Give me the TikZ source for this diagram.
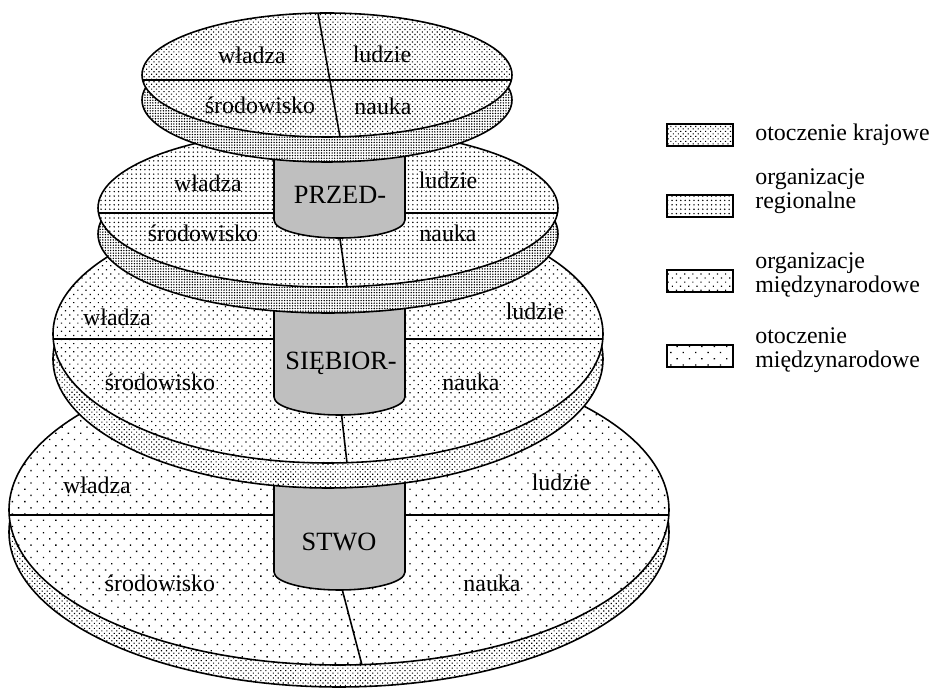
\documentclass[tikz,border=0pt]{standalone}
\usepackage{fontspec}
\setmainfont{Liberation Serif}
\usetikzlibrary{patterns.meta}
\tikzstyle{disc} = [draw, line width=0.9pt, preaction={fill=white}]
\tikzstyle{krajowe} = [pattern={Dots[distance=2pt, radius=0.45pt, angle=45]}]
\tikzstyle{regionalne} = [pattern={Dots[distance=2.5pt, radius=0.45pt]}]
\tikzstyle{orgmiedzy} = [pattern={Dots[distance=3.3pt, radius=0.48pt, angle=45]}]
\tikzstyle{otmiedzy} = [pattern={Dots[distance=5pt, radius=0.55pt, angle=45]}]
\tikzstyle{rimfine} = [pattern={Dots[distance=1.5pt, radius=0.45pt]}]
\tikzstyle{rimmid} = [pattern={Dots[distance=2pt, radius=0.45pt, angle=45]}]
\tikzstyle{divide} = [draw, line width=0.9pt]
\tikzstyle{cyl} = [draw, line width=0.9pt, fill=black!25]
\tikzstyle{lbl} = [font=\fontsize{13.6}{16}\selectfont, inner sep=0pt]
\tikzstyle{firm} = [font=\fontsize{15}{18}\selectfont, inner sep=0pt]
\tikzstyle{legbox} = [rectangle, draw, line width=1.2pt, preaction={fill=white},
    minimum width=1.32cm, minimum height=0.44cm, inner sep=0pt]
\tikzstyle{legtext} = [font=\fontsize{13.6}{14}\selectfont, align=left,
    anchor=west, inner sep=0pt]

\begin{document}
\begin{tikzpicture}[x=0.02cm, y=-0.02cm]
\useasboundingbox (0,0) rectangle (931,688);
    % Bottom disc
\path [disc, rimmid] (339,532) ellipse [x radius=330, y radius=155];
\path [disc, otmiedzy] (339,510) ellipse [x radius=330, y radius=155];
\path [divide] (10,515) -- (668,515);
\path [divide] (341,585) -- (362,665);
\node[lbl] (wl4) at (97,485) {władza};
\node[lbl] (lu4) at (561,482) {ludzie};
\node[lbl] (sr4) at (160,583) {środowisko};
\node[lbl] (na4) at (492,583) {nauka};
\draw[cyl] (274,470) -- (274,572) arc[start angle=180, end angle=0, x radius=65.5, y radius=18] -- (405,470) -- cycle;
\node[firm] (stwo) at (339,542) {STWO};

    % Third disc
\path [disc, rimmid] (328,359) ellipse [x radius=275, y radius=129];
\path [disc, orgmiedzy] (328,334) ellipse [x radius=275, y radius=129];
\path [divide] (54,339) -- (602,339);
\path [divide] (341,410) -- (347,463);
\node[lbl] (wl3) at (117,317) {władza};
\node[lbl] (lu3) at (535,311) {ludzie};
\node[lbl] (sr3) at (160,382) {środowisko};
\node[lbl] (na3) at (471,382) {nauka};
\draw[cyl] (274,290) -- (274,397) arc[start angle=180, end angle=0, x radius=65.5, y radius=18] -- (405,290) -- cycle;
\node[firm] (siebior) at (341,363) {SIĘBIOR-};

    % Second disc
\path [disc, rimfine] (328,234) ellipse [x radius=230, y radius=79];
\path [disc, regionalne] (328,208) ellipse [x radius=230, y radius=79];
\path [divide] (99,213) -- (557,213);
\path [divide] (339,232) -- (347,287);
\node[lbl] (wl2) at (208,183) {władza};
\node[lbl] (lu2) at (448,180) {ludzie};
\node[lbl] (sr2) at (203,233) {środowisko};
\node[lbl] (na2) at (448,233) {nauka};
\draw[cyl] (274,150) -- (274,220) arc[start angle=180, end angle=0, x radius=65.5, y radius=18] -- (405,150) -- cycle;
\node[firm] (przed) at (340,195) {PRZED-};

    % Top disc
\path [disc, rimfine] (327,100) ellipse [x radius=185, y radius=62];
\path [disc, krajowe] (327,75) ellipse [x radius=185, y radius=62];
\path [divide] (143,80) -- (511,80);
\path [divide] (318,13) -- (340,137);
\node[lbl] (wl1) at (252,55) {władza};
\node[lbl] (lu1) at (382,54) {ludzie};
\node[lbl] (sr1) at (260,105) {środowisko};
\node[lbl] (na1) at (383,106) {nauka};

    % Legend
\node[legbox, krajowe] (box1) at (700,135) {};
\node[legtext] (leg1) at (755,135) {otoczenie krajowe};
\node[legbox, regionalne] (box2) at (700,206) {};
\node[legtext] (leg2) at (755,191) {organizacje\\regionalne};
\node[legbox, orgmiedzy] (box3) at (700,281) {};
\node[legtext] (leg3) at (755,275) {organizacje\\międzynarodowe};
\node[legbox, otmiedzy] (box4) at (700,356) {};
\node[legtext] (leg4) at (755,350) {otoczenie\\międzynarodowe};
\end{tikzpicture}
\end{document}
